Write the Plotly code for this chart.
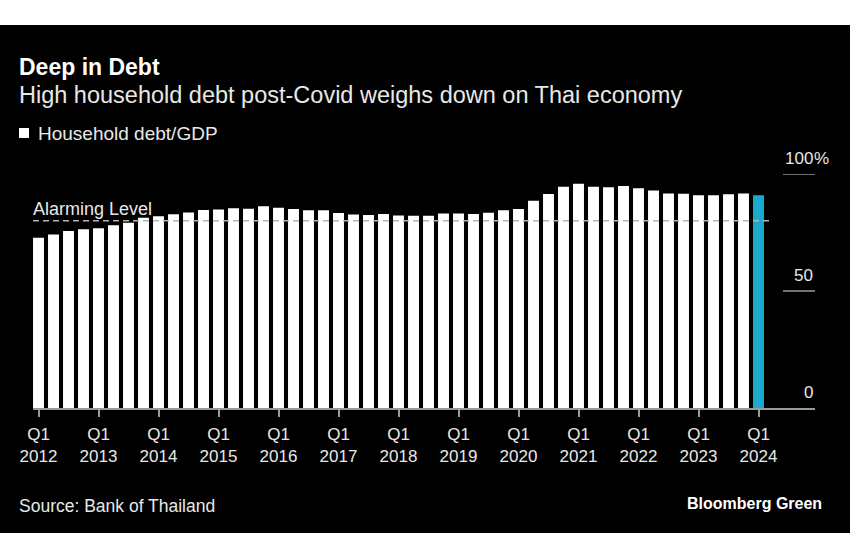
import plotly.graph_objects as go

# ---------------- data ----------------
years = list(range(2012, 2025))
quarters = [f"{y}Q{q}" for y in range(2012, 2024) for q in (1, 2, 3, 4)] + ["2024Q1"]
debt_to_gdp = [
    72.8, 74.1, 75.6, 76.4,   # 2012
    76.8, 78.1, 79.2, 81.3,   # 2013
    81.9, 82.8, 83.5, 84.6,   # 2014
    84.8, 85.4, 85.2, 86.2,   # 2015
    85.6, 85.0, 84.5, 84.5,   # 2016
    83.3, 82.7, 82.5, 82.9,   # 2017
    82.3, 82.2, 82.2, 83.1,   # 2018
    83.1, 82.9, 83.4, 84.5,   # 2019
    85.0, 88.6, 91.5, 94.5,   # 2020
    95.8, 94.5, 94.3, 94.9,   # 2021
    93.9, 93.0, 91.7, 91.6,   # 2022
    90.9, 90.9, 91.3, 91.7,   # 2023
    90.9,                     # 2024
]
tick_vals = [f"{y}Q1" for y in years]
tick_text = [f"Q1<br>{y}" for y in years]
y_ticks = [0, 50, 100]
alarm_level = 80

# ---------------- layout constants (pixels) ----------------
W, H = 850, 560
PL, PR, PT, PB = 33, 815, 174, 408   # plot area edges
FONT = "Liberation Sans, Arial, sans-serif"
TXT = "#e8e8e8"
GRAY = "#9a9a9a"
CYAN = "#1aa9cf"


def pxx(x):
    return (x - PL) / (PR - PL)


def pxy(y):
    return (PB - y) / (PB - PT)


colors = ["#ffffff"] * (len(debt_to_gdp) - 1) + [CYAN]

fig = go.Figure(
    go.Bar(
        x=quarters,
        y=debt_to_gdp,
        marker=dict(color=colors, line=dict(width=0)),
        hovertemplate="%{x}: %{y:.1f}%<extra></extra>",
    )
)

pitch = 15.0
first_center = 38.5
x_min = -(first_center - PL) / pitch
x_max = x_min + (PR - PL) / pitch

fig.update_layout(
    width=W,
    height=H,
    margin=dict(l=PL, r=W - PR, t=PT, b=H - PB, pad=0),
    paper_bgcolor="#000000",
    plot_bgcolor="#000000",
    bargap=0.27,
    showlegend=False,
    font=dict(family=FONT, color=TXT, size=17),
    xaxis=dict(
        type="category",
        range=[x_min, x_max],
        tickmode="array",
        tickvals=tick_vals,
        ticktext=tick_text,
        ticks="outside",
        ticklen=7,
        tickwidth=1.5,
        tickcolor=GRAY,
        ticklabelstandoff=3,
        showline=True,
        linecolor=GRAY,
        linewidth=1.5,
        showgrid=False,
        zeroline=False,
        tickfont=dict(family=FONT, size=17, color=TXT),
        fixedrange=True,
    ),
    yaxis=dict(
        range=[0, 100],
        visible=False,
        fixedrange=True,
    ),
)

shapes = []
annotations = []

# white margins top & bottom of the picture
shapes.append(dict(type="rect", xref="paper", yref="paper",
                   x0=pxx(-5), x1=pxx(W + 5), y0=pxy(25), y1=pxy(-5),
                   fillcolor="#ffffff", line=dict(width=0), layer="above"))
shapes.append(dict(type="rect", xref="paper", yref="paper",
                   x0=pxx(-5), x1=pxx(W + 5), y0=pxy(H + 5), y1=pxy(533),
                   fillcolor="#ffffff", line=dict(width=0), layer="above"))

# right-side short gridlines with labels above
for v in y_ticks:
    if v > 0:
        shapes.append(dict(type="line", xref="paper", yref="y",
                           x0=pxx(783), x1=1, y0=v, y1=v,
                           line=dict(color=GRAY, width=1.5)))
    annotations.append(dict(xref="paper", yref="y", x=1, y=v,
                            text=str(v), showarrow=False,
                            xanchor="right", yanchor="bottom", yshift=4,
                            font=dict(family=FONT, size=17, color=TXT)))
annotations.append(dict(xref="paper", yref="y", x=1, y=100, xshift=-3,
                        text="%", showarrow=False,
                        xanchor="left", yanchor="bottom", yshift=4,
                        font=dict(family=FONT, size=17, color=TXT)))

# alarming level dashed line
shapes.append(dict(type="line", xref="x", yref="y",
                   x0=x_min, x1=len(quarters) - 0.25, y0=alarm_level, y1=alarm_level,
                   line=dict(color="#b4b4b4", width=1.5, dash="6px,4px"),
                   layer="above"))
annotations.append(dict(xref="paper", yref="y", x=0, y=alarm_level,
                        text="Alarming Level", showarrow=False,
                        xanchor="left", yanchor="bottom", yshift=0, xshift=-2,
                        font=dict(family=FONT, size=18, color=TXT)))

# titles
annotations.append(dict(xref="paper", yref="paper", x=pxx(17), y=pxy(67),
                        text="<b>Deep in Debt</b>", showarrow=False,
                        xanchor="left", yanchor="middle",
                        font=dict(family=FONT, size=23, color="#ffffff")))
annotations.append(dict(xref="paper", yref="paper", x=pxx(17), y=pxy(95),
                        text="High household debt post-Covid weighs down on Thai economy",
                        showarrow=False, xanchor="left", yanchor="middle",
                        font=dict(family=FONT, size=23.5, color=TXT)))

# legend
shapes.append(dict(type="rect", xref="paper", yref="paper",
                   x0=pxx(19), x1=pxx(29), y0=pxy(138), y1=pxy(128),
                   fillcolor="#ffffff", line=dict(width=0)))
annotations.append(dict(xref="paper", yref="paper", x=pxx(36), y=pxy(133),
                        text="Household debt/GDP", showarrow=False,
                        xanchor="left", yanchor="middle",
                        font=dict(family=FONT, size=19, color=TXT)))

# footer
annotations.append(dict(xref="paper", yref="paper", x=pxx(17), y=pxy(506),
                        text="Source: Bank of Thailand", showarrow=False,
                        xanchor="left", yanchor="middle",
                        font=dict(family=FONT, size=17.5, color=TXT)))
annotations.append(dict(xref="paper", yref="paper", x=pxx(824), y=pxy(504),
                        text="<b>Bloomberg Green</b>", showarrow=False,
                        xanchor="right", yanchor="middle",
                        font=dict(family=FONT, size=16, color="#ffffff")))

fig.update_layout(shapes=shapes, annotations=annotations)

fig.write_html("out.html", config={"displayModeBar": False})

# remove the default page margin so the figure sits at the window's origin
with open("out.html", "r", encoding="utf-8") as f:
    html = f.read()
html = html.replace("<head>", "<head><style>html,body{margin:0;padding:0;background:#ffffff;}</style>", 1)
with open("out.html", "w", encoding="utf-8") as f:
    f.write(html)
